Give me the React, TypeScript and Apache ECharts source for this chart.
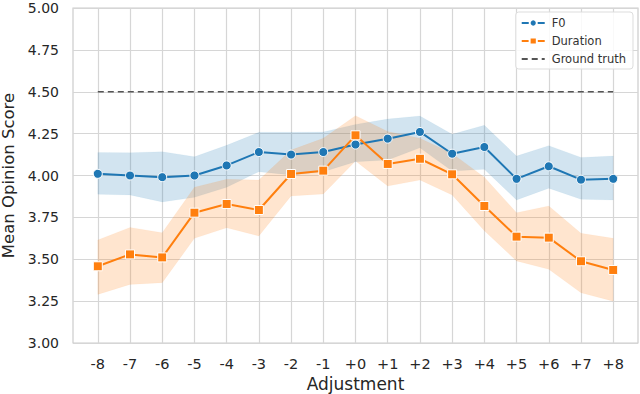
import React, { useEffect, useRef } from "react";
import * as echarts from "echarts";

const xValues = [-8, -7, -6, -5, -4, -3, -2, -1, 0, 1, 2, 3, 4, 5, 6, 7, 8];
const xLabels = ["-8", "-7", "-6", "-5", "-4", "-3", "-2", "-1", "+0", "+1", "+2", "+3", "+4", "+5", "+6", "+7", "+8"];

const f0Mean = [4.01, 4.0, 3.99, 4.0, 4.06, 4.14, 4.125, 4.14, 4.185, 4.22, 4.26, 4.13, 4.17, 3.98, 4.055, 3.975, 3.98];
const f0Upper = [4.138, 4.136, 4.142, 4.112, 4.18, 4.258, 4.258, 4.26, 4.305, 4.337, 4.355, 4.246, 4.3, 4.116, 4.178, 4.108, 4.116];
const f0Lower = [3.888, 3.884, 3.842, 3.87, 3.93, 4.023, 4.003, 4.023, 4.082, 4.093, 4.165, 4.027, 4.037, 3.854, 3.924, 3.858, 3.854];

const durMean = [3.458, 3.529, 3.511, 3.778, 3.83, 3.794, 4.009, 4.029, 4.24, 4.069, 4.1, 4.007, 3.818, 3.635, 3.629, 3.488, 3.436];
const durUpper = [3.615, 3.69, 3.658, 3.93, 3.977, 3.973, 4.152, 4.222, 4.357, 4.262, 4.222, 4.132, 3.99, 3.778, 3.818, 3.655, 3.625];
const durLower = [3.29, 3.35, 3.36, 3.625, 3.688, 3.639, 3.878, 3.89, 4.087, 3.937, 3.973, 3.884, 3.67, 3.49, 3.44, 3.3, 3.25];

const groundTruth = 4.5;
const yTicks = [3.0, 3.25, 3.5, 3.75, 4.0, 4.25, 4.5, 4.75, 5.0];

const BLUE = "#1f77b4";
const ORANGE = "#ff7f0e";
const FONT = "DejaVu Sans";

function bandSeries(name: string, upper: number[], lower: number[], color: string) {
  return {
    name,
    type: "custom",
    silent: true,
    z: 1,
    data: [[xValues[0], upper[0]]],
    renderItem: (_params: any, api: any) => {
      const pts: number[][] = [];
      for (let i = 0; i < xValues.length; i++) pts.push(api.coord([xValues[i], upper[i]]));
      for (let i = xValues.length - 1; i >= 0; i--) pts.push(api.coord([xValues[i], lower[i]]));
      return {
        type: "polygon",
        shape: { points: pts },
        style: { fill: color, opacity: 0.2, stroke: color, lineWidth: 0.8, strokeOpacity: 0.25 },
      };
    },
  };
}

export default function App() {
  const ref = useRef<HTMLDivElement>(null);
  useEffect(() => {
    if (!ref.current) return;
    const chart = echarts.init(ref.current, null, { renderer: "svg" });
    const labelMap: Record<string, string> = {};
    xValues.forEach((v, i) => (labelMap[String(v)] = xLabels[i]));
    chart.setOption({
      animation: false,
      backgroundColor: "#ffffff",
      textStyle: { fontFamily: FONT },
      grid: {
        left: 73,
        right: 2,
        top: 8,
        bottom: 51,
        outerBoundsMode: "none",
        containLabel: false,
        show: true,
        borderColor: "#cccccc",
        borderWidth: 1.2,
        backgroundColor: "transparent",
      },
      legend: {
        data: [
          { name: "F0" },
          { name: "Duration" },
          { name: "Ground truth", itemStyle: { opacity: 0 } },
        ],
        orient: "vertical",
        right: 7,
        top: 12,
        itemWidth: 23,
        itemHeight: 9,
        itemGap: 6,
        padding: [5, 7, 4, 5],
        backgroundColor: "rgba(255,255,255,0.85)",
        borderColor: "#dddddd",
        borderWidth: 1,
        borderRadius: 3,
        textStyle: { fontFamily: FONT, fontSize: 11.5, color: "#333333", padding: [0, 0, 0, 2] },
      },
      xAxis: {
        type: "value",
        min: -8.77,
        max: 8.77,
        name: "Adjustment",
        nameLocation: "middle",
        nameGap: 31,
        nameTextStyle: { fontFamily: FONT, fontSize: 17, color: "#262626" },
        axisLine: { show: false },
        axisTick: { show: false, customValues: xValues },
        axisLabel: {
          customValues: xValues,
          formatter: (v: number) => labelMap[String(v)] ?? String(v),
          fontFamily: FONT,
          fontSize: 14.5,
          color: "#262626",
          margin: 13,
        },
        splitLine: { show: true, lineStyle: { color: "#d6d6d6", width: 1.2 } },
      },
      yAxis: {
        type: "value",
        min: 3,
        max: 5,
        interval: 0.25,
        name: "Mean Opinion Score",
        nameLocation: "middle",
        nameGap: 52,
        nameTextStyle: { fontFamily: FONT, fontSize: 16.5, color: "#262626" },
        axisLine: { show: false },
        axisTick: { show: false },
        axisLabel: {
          formatter: (v: number) => v.toFixed(2),
          fontFamily: FONT,
          fontSize: 14,
          color: "#262626",
          margin: 14,
          customValues: yTicks,
        },
        splitLine: { show: true, lineStyle: { color: "#d6d6d6", width: 1.2 } },
      },
      series: [
        bandSeries("F0 band", f0Upper, f0Lower, BLUE),
        bandSeries("Duration band", durUpper, durLower, ORANGE),
        {
          name: "F0",
          type: "line",
          z: 3,
          data: xValues.map((x, i) => [x, f0Mean[i]]),
          symbol: "circle",
          symbolSize: 9,
          lineStyle: { color: BLUE, width: 2 },
          itemStyle: { color: BLUE, borderColor: "#ffffff", borderWidth: 1 },
        },
        {
          name: "Duration",
          type: "line",
          z: 4,
          data: xValues.map((x, i) => [x, durMean[i]]),
          symbol: "rect",
          symbolSize: 9,
          lineStyle: { color: ORANGE, width: 2 },
          itemStyle: { color: ORANGE, borderColor: "#ffffff", borderWidth: 1 },
        },
        {
          name: "Ground truth",
          type: "line",
          z: 2,
          data: [
            [xValues[0], groundTruth],
            [xValues[xValues.length - 1], groundTruth],
          ],
          symbol: "none",
          lineStyle: { color: "#555555", width: 1.5, type: [6, 4] },
          itemStyle: { color: "#555555" },
        },
      ],
    });
    return () => chart.dispose();
  }, []);
  return <div ref={ref} style={{ width: 640, height: 394, position: "absolute", left: 0, top: 0 }} />;
}
